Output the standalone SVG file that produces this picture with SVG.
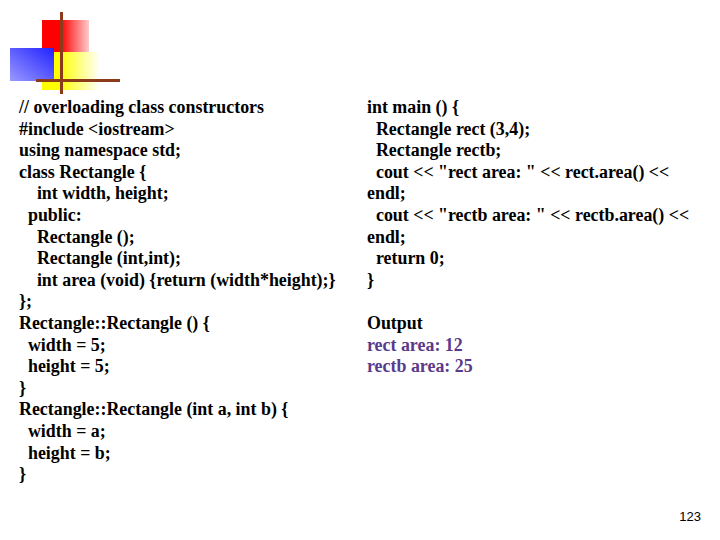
<svg xmlns="http://www.w3.org/2000/svg" width="720" height="540" viewBox="0 0 720 540">
<defs>
<linearGradient id="gr" x1="0" x2="1"><stop offset="0.4" stop-color="#f00"/><stop offset="1" stop-color="#fcc"/></linearGradient>
<linearGradient id="gy" x1="0" x2="1"><stop offset="0.3" stop-color="#ff0"/><stop offset="1" stop-color="#fff"/></linearGradient>
<linearGradient id="gb" x1="0" y1="1" x2="1" y2="0"><stop offset="0" stop-color="#99f"/><stop offset="1" stop-color="#22f"/></linearGradient>
<style>
text{font-family:"Liberation Serif",serif;font-size:17.9px;font-weight:bold;fill:#000}
.o{fill:#5a3a8a}
</style>
</defs>
<rect width="720" height="540" fill="#fff"/>
<g id="logo">
<rect x="42" y="20" width="47" height="33" fill="url(#gr)"/>
<rect x="42" y="52" width="58" height="38" fill="url(#gy)"/>
<rect x="10" y="48" width="44" height="33" fill="url(#gb)"/>
<rect x="60" y="12" width="3" height="82" fill="#8b3a1a"/>
<rect x="36" y="79" width="84" height="3" fill="#8b3a1a"/>
</g>
<g id="left">
<text x="19" y="113">// overloading class constructors</text>
<text x="19" y="135">#include &lt;iostream&gt;</text>
<text x="19" y="156">using namespace std;</text>
<text x="19" y="178">class Rectangle {</text>
<text x="19" y="199" xml:space="preserve">    int width, height;</text>
<text x="19" y="221" xml:space="preserve">  public:</text>
<text x="19" y="243" xml:space="preserve">    Rectangle ();</text>
<text x="19" y="264" xml:space="preserve">    Rectangle (int,int);</text>
<text x="19" y="286" xml:space="preserve">    int area (void) {return (width*height);}</text>
<text x="19" y="307">};</text>
<text x="19" y="329">Rectangle::Rectangle () {</text>
<text x="19" y="351" xml:space="preserve">  width = 5;</text>
<text x="19" y="372" xml:space="preserve">  height = 5;</text>
<text x="19" y="394">}</text>
<text x="19" y="415">Rectangle::Rectangle (int a, int b) {</text>
<text x="19" y="437" xml:space="preserve">  width = a;</text>
<text x="19" y="459" xml:space="preserve">  height = b;</text>
<text x="19" y="480">}</text>
</g>
<g id="right">
<text x="367" y="113">int main () {</text>
<text x="367" y="135" xml:space="preserve">  Rectangle rect (3,4);</text>
<text x="367" y="156" xml:space="preserve">  Rectangle rectb;</text>
<text x="367" y="178" xml:space="preserve">  cout &lt;&lt; "rect area: " &lt;&lt; rect.area() &lt;&lt;</text>
<text x="367" y="199">endl;</text>
<text x="367" y="221" xml:space="preserve">  cout &lt;&lt; "rectb area: " &lt;&lt; rectb.area() &lt;&lt;</text>
<text x="367" y="243">endl;</text>
<text x="367" y="264" xml:space="preserve">  return 0;</text>
<text x="367" y="286">}</text>
<text x="367" y="329">Output</text>
<text x="367" y="351" class="o">rect area: 12</text>
<text x="367" y="372" class="o">rectb area: 25</text>
</g>
<text x="701" y="521" text-anchor="end" style="font-family:'Liberation Sans',sans-serif;font-size:13px;font-weight:normal">123</text>
</svg>
